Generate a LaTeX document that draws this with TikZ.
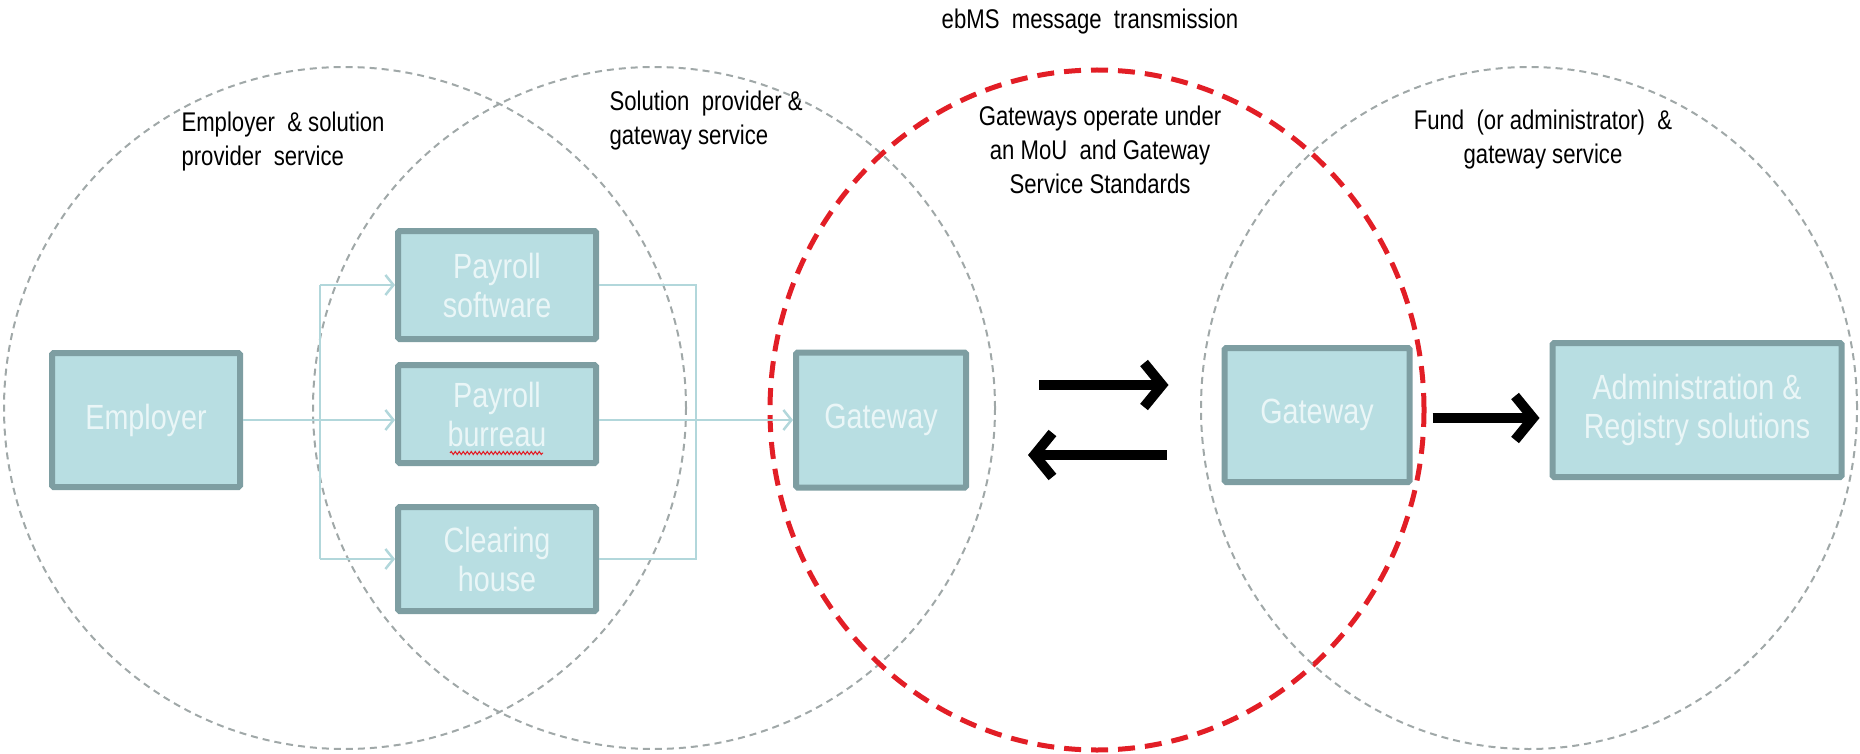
\documentclass[tikz,border=0pt]{standalone}
\usepackage{fontspec}
\setmainfont[FakeStretch=0.82]{Liberation Sans}
\usetikzlibrary{arrows.meta,decorations.pathmorphing}

\definecolor{boxfill}{RGB}{184,222,226}
\definecolor{boxline}{RGB}{126,158,162}
\definecolor{boxtext}{RGB}{234,246,247}
\definecolor{linkcol}{RGB}{178,215,219}
\definecolor{zonegray}{RGB}{160,168,168}
\definecolor{ebmsred}{RGB}{226,30,38}

\tikzset{
	box/.style={draw=boxline, line width=6pt, fill=boxfill, text=boxtext, inner sep=0pt,
		rounded corners=1.5pt, align=center, font=\fontsize{35}{39}\selectfont},
	link/.style={draw=linkcol, line width=2.5pt},
	linkarrow/.style={link, -{Straight Barb[length=8pt,width=20pt]}},
	bigarrow/.style={line width=10pt, -{Straight Barb[length=18pt,width=44pt]}},
	zone/.style={draw=zonegray, line width=2pt, dash pattern=on 7pt off 5pt},
	redzone/.style={draw=ebmsred, line width=5pt, dash pattern=on 17pt off 10pt},
	zonelabel/.style={font=\fontsize{27}{34}\selectfont}
}

\begin{document}
\begin{tikzpicture}[x=1pt, y=-1pt]
	\useasboundingbox (0,0) rectangle (1860,754);

	% service zones
	\draw[zone] (345, 408) circle [radius=341pt];
	\draw[zone] (654, 408) circle [radius=341pt];
	\draw[redzone] (1097, 410) ellipse [x radius=327pt, y radius=340pt];
	\draw[zone] (1529, 408) ellipse [x radius=328pt, y radius=341pt];

	\node[zonelabel] at (1090, 22) {ebMS\ \ message\ \ transmission};
	\node[zonelabel, anchor=west, align=left] at (178, 142) {Employer\ \ \& solution\\provider\ \ service};
	\node[zonelabel, anchor=west, align=left] at (606, 121) {Solution\ \ provider \&\\gateway service};
	\node[zonelabel, align=center] at (1100, 150) {Gateways operate under\\an MoU\ \ and Gateway\\Service Standards};
	\node[zonelabel, align=center] at (1543, 140) {Fund\ \ (or administrator)\ \ \&\\gateway service};

	% boxes
	\node[box, minimum width=188pt, minimum height=134pt] (employer) at (146, 420) {Employer};
	\node[box, minimum width=198pt, minimum height=108pt] (software) at (497, 285) {Payroll\\software};
	\node[box, minimum width=198pt, minimum height=98pt] (bureau) at (497, 414) {Payroll\\burreau};
	\node[box, minimum width=198pt, minimum height=104pt] (clearing) at (497, 559) {Clearing\\house};
	\node[box, minimum width=170pt, minimum height=135pt] (gwA) at (881, 420) {Gateway};
	\node[box, minimum width=185pt, minimum height=134pt] (gwB) at (1317, 415) {Gateway};
	\node[box, minimum width=289pt, minimum height=134pt] (admin) at (1697, 410) {Administration \&\\Registry solutions};

	% spell-check squiggle
	\draw[ebmsred, line width=1pt, decorate, decoration={snake, amplitude=1.5pt, segment length=4pt}]
		([xshift=-47pt, yshift=-39pt]bureau.center) -- ([xshift=46pt, yshift=-39pt]bureau.center);

	% links through the solution providers
	\coordinate (split) at (320, 420);
	\coordinate (join) at (696, 420);
	\draw[linkarrow] (employer.east |- split) -- (bureau.west |- split);
	\draw[linkarrow] (split |- software.west) -- (software.west);
	\draw[link] (split |- software.west) -- (split |- clearing.west);
	\draw[linkarrow] (split |- clearing.west) -- (clearing.west);
	\draw[link] (software.east) -- (join |- software.east) -- (join |- clearing.east) -- (clearing.east);
	\draw[linkarrow] (bureau.east |- join) -- (gwA.west |- join);

	% message exchange
	\draw[bigarrow] ([xshift=70pt, yshift=35pt]gwA.east) -- ([xshift=-53pt, yshift=35pt]gwA.east -| gwB.west);
	\draw[bigarrow] ([xshift=-55pt, yshift=-35pt]gwA.east -| gwB.west) -- ([xshift=59pt, yshift=-35pt]gwA.east);
	\draw[bigarrow] ([xshift=20pt, yshift=-3pt]gwB.east) -- ([xshift=-10pt, yshift=-3pt]gwB.east -| admin.west);

\end{tikzpicture}
\end{document}
